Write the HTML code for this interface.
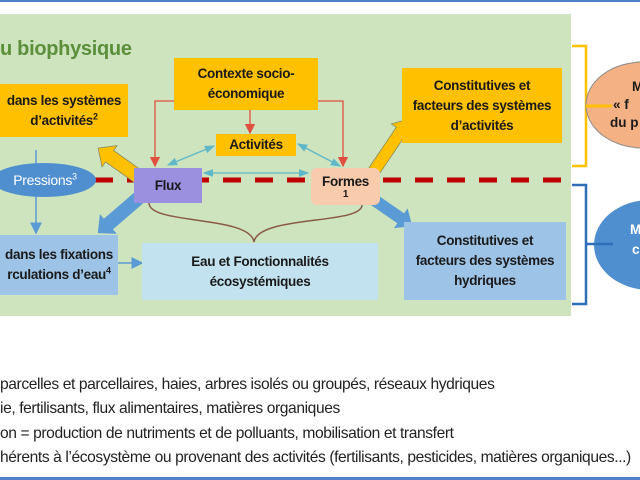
<!DOCTYPE html>
<html><head><meta charset="utf-8"><style>
body{margin:0;width:640px;height:480px;overflow:hidden;background:#fff;font-family:"Liberation Sans",sans-serif;position:relative}
.a{position:absolute;box-sizing:border-box;display:flex;align-items:center;justify-content:center;text-align:center;font-weight:bold;color:#1a1a1a;font-size:13.5px;line-height:20px;letter-spacing:-0.3px}
.t{position:absolute;left:0;font-size:15.6px;color:#222;white-space:nowrap;letter-spacing:-0.4px}
sup{font-size:9px;line-height:0;vertical-align:super}
</style></head><body>
<div style="position:absolute;left:0;top:0;width:640px;height:2px;background:#4f7fc4"></div>
<div style="position:absolute;left:0;top:477px;width:640px;height:3px;background:#4f7fc4"></div>
<div style="position:absolute;left:0;top:14px;width:571px;height:302px;background:#cde4bf"></div>
<div style="position:absolute;left:0;top:38px;font-size:20px;font-weight:bold;color:#5b8f3a;letter-spacing:-0.3px">u biophysique</div>

<svg width="640" height="480" style="position:absolute;left:0;top:0">
<defs>
<marker id="r" markerWidth="8" markerHeight="8" refX="7" refY="4" orient="auto"><path d="M0,0L8,4L0,8z" fill="#e05040"/></marker>
<marker id="c" markerWidth="8" markerHeight="8" refX="7" refY="4" orient="auto-start-reverse"><path d="M0,1L8,4L0,7z" fill="#5fb8c8"/></marker>
<marker id="b" markerWidth="8" markerHeight="8" refX="7" refY="4" orient="auto"><path d="M0,0L8,4L0,8z" fill="#5b9bd5"/></marker>
</defs>
<line x1="95" y1="180" x2="566" y2="180" stroke="#c00000" stroke-width="5" stroke-dasharray="18,14"/>
<path d="M572,46H586V166H572" fill="none" stroke="#ffc000" stroke-width="2.5"/>
<path d="M572,185H586V304H572" fill="none" stroke="#2e6fb8" stroke-width="2.5"/>
<ellipse cx="643" cy="105" rx="57" ry="43" fill="#f4b183" stroke="#8a8a8a"/>
<ellipse cx="650" cy="245" rx="56" ry="45" fill="#4f8fd0"/>
<line x1="586" y1="106" x2="612" y2="106" stroke="#ffc000" stroke-width="3"/>
<line x1="586" y1="244" x2="613" y2="244" stroke="#2e6fb8" stroke-width="2.5"/>
<path d="M174,101H155V166" fill="none" stroke="#e05040" stroke-width="1.3" marker-end="url(#r)"/>
<path d="M318,101H343V166" fill="none" stroke="#e05040" stroke-width="1.3" marker-end="url(#r)"/>
<line x1="250" y1="110" x2="250" y2="133" stroke="#e05040" stroke-width="1.3" marker-end="url(#r)"/>
<line x1="214" y1="146" x2="168" y2="165" stroke="#5fb8c8" stroke-width="1.3" marker-start="url(#c)" marker-end="url(#c)"/>
<line x1="298" y1="144" x2="340" y2="166" stroke="#5fb8c8" stroke-width="1.3" marker-start="url(#c)" marker-end="url(#c)"/>
<line x1="204" y1="173" x2="308" y2="173" stroke="#5fb8c8" stroke-width="1.3" marker-start="url(#c)" marker-end="url(#c)"/>
<line x1="36" y1="150" x2="36" y2="233" stroke="#5b9bd5" stroke-width="1.5" marker-end="url(#b)"/>
<line x1="118" y1="263" x2="142" y2="263" stroke="#5b9bd5" stroke-width="1.5" marker-end="url(#b)"/>
<path d="M149,203C149,225 250,215 254,242C258,215 362,225 362,205" fill="none" stroke="#8b5a44" stroke-width="1.5"/>
<g transform="translate(143,180) rotate(-144.6)"><polygon points="0,-7 41,-7 41,-13 55,0 41,13 41,7 0,7" fill="#ffc000" stroke="#8a8a5a" stroke-width="0.8"/></g>
<g transform="translate(141,196) rotate(139.3)"><polygon points="0,-7 43,-7 43,-13 57,0 43,13 43,7 0,7" fill="#5b9bd5"/></g>
<g transform="translate(370,177) rotate(-56)"><polygon points="0,-6 56,-6 56,-12 70,0 56,12 56,6 0,6" fill="#ffc000" stroke="#8a8a5a" stroke-width="0.8"/></g>
<g transform="translate(367,195) rotate(34.6)"><polygon points="0,-6 41,-6 41,-12 55,0 41,12 41,6 0,6" fill="#5b9bd5"/></g>
<ellipse cx="44" cy="180" rx="52" ry="17" fill="#4f8fd0"/>
</svg>

<div class="a" style="left:0;top:84px;width:128px;height:53px;background:#ffc000"><span>dans les systèmes<br>d’activités<sup>2</sup></span></div>
<div class="a" style="left:174px;top:58px;width:144px;height:52px;background:#ffc000"><span>Contexte socio-<br>économique</span></div>
<div class="a" style="left:216px;top:134px;width:80px;height:22px;background:#ffc000">Activités</div>
<div class="a" style="left:0;top:168px;width:90px;height:24px;color:#fff;font-weight:normal;font-size:14px"><span>Pressions<sup>3</sup></span></div>
<div class="a" style="left:134px;top:168px;width:68px;height:35px;background:#9b8fe0">Flux</div>
<div class="a" style="left:311px;top:168px;width:69px;height:37px;background:#f8cbad;border-radius:6px;flex-direction:column;line-height:16px"><span>Formes</span><span style="font-size:10px;line-height:10px">1</span></div>
<div class="a" style="left:0;top:235px;width:118px;height:60px;background:#9dc3e6"><span>dans les fixations<br>rculations d’eau<sup>4</sup></span></div>
<div class="a" style="left:142px;top:243px;width:236px;height:57px;background:#c3e2ef"><span>Eau et Fonctionnalités<br>écosystémiques</span></div>
<div class="a" style="left:402px;top:68px;width:160px;height:75px;background:#ffc000"><span>Constitutives et<br>facteurs des systèmes<br>d’activités</span></div>
<div class="a" style="left:404px;top:222px;width:162px;height:78px;background:#9dc3e6"><span>Constitutives et<br>facteurs des systèmes<br>hydriques</span></div>
<div style="position:absolute;left:610px;top:78px;font-weight:bold;font-size:13.5px;line-height:18px;color:#1a1a1a"><div style="padding-left:22px">M</div><div style="padding-left:3px">« f</div><div>du p</div></div>
<div style="position:absolute;left:630px;top:220px;font-weight:bold;font-size:13.5px;line-height:20px;color:#fff"><div>M</div><div style="padding-left:2px">c</div></div>

<div class="t" style="top:376px">parcelles et parcellaires, haies, arbres isolés ou groupés, réseaux hydriques</div>
<div class="t" style="top:400px">ie, fertilisants, flux alimentaires, matières organiques</div>
<div class="t" style="top:425px">on = production de nutriments et de polluants, mobilisation et transfert</div>
<div class="t" style="top:449px">hérents à l’écosystème ou provenant des activités (fertilisants, pesticides, matières organiques...)</div>
</body></html>
